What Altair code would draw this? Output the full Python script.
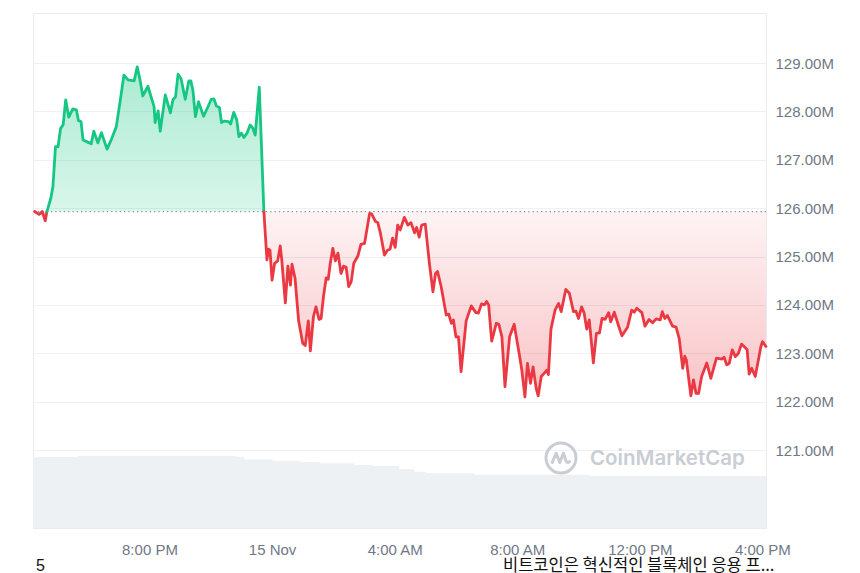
import altair as alt
import pandas as pd

# ---------------- data ----------------
START = "2024-11-14 16:12"      # left edge of the plot
END_MIN = 1435                  # right edge, minutes after START
BASE = 125.93                   # opening value (dotted reference line), in M

minutes = [3, 12, 18, 24, 27, 35, 39, 44, 49, 54, 59, 64, 70, 78, 85, 89, 94, 98, 106, 114,
           119, 127, 134, 145, 153, 163, 171, 178, 186, 198, 204, 209, 215, 225, 233, 237, 239, 245, 249, 259,
           269, 274, 279, 284, 290, 298, 305, 309, 313, 318, 324, 334, 341, 349, 354, 359, 365, 369, 375, 383,
           387, 393, 399, 403, 408, 413, 419, 425, 430, 435, 443, 452, 458, 461, 464, 468, 473, 479, 484, 487,
           494, 499, 504, 507, 513, 520, 528, 533, 539, 543, 549, 554, 560, 564, 569, 574, 578, 582, 587, 592,
           597, 603, 608, 613, 618, 623, 628, 636, 642, 649, 659, 663, 670, 675, 680, 688, 694, 699, 704, 709,
           714, 719, 727, 734, 740, 747, 751, 756, 761, 768, 776, 783, 788, 792, 799, 809, 814, 819, 823, 828,
           833, 838, 848, 858, 867, 872, 878, 884, 888, 892, 898, 907, 912, 918, 924, 933, 942, 952, 957, 963,
           968, 974, 979, 985, 989, 995, 1001, 1006, 1009, 1014, 1022, 1029, 1034, 1043, 1050, 1058, 1063, 1068, 1074, 1079,
           1084, 1089, 1097, 1103, 1109, 1114, 1120, 1127, 1131, 1138, 1146, 1153, 1164, 1172, 1177, 1182, 1192, 1198, 1206, 1213,
           1220, 1228, 1232, 1237, 1242, 1252, 1259, 1265, 1272, 1276, 1279, 1288, 1293, 1298, 1303, 1309, 1319, 1327, 1338, 1349,
           1353, 1358, 1363, 1369, 1375, 1381, 1387, 1398, 1402, 1407, 1414, 1425, 1428, 1435]

prices = [125.93, 125.87, 125.93, 125.74, 125.92, 126.21, 126.44, 127.27, 127.27, 127.65, 127.72, 128.24, 127.88, 128.05, 128.03, 127.81, 127.79, 127.41, 127.37, 127.33,
          127.59, 127.35, 127.56, 127.22, 127.41, 127.68, 128.24, 128.75, 128.65, 128.63, 128.92, 128.68, 128.32, 128.52, 128.24, 128.10, 127.77, 128.01, 127.59, 128.34,
          127.97, 128.24, 128.30, 128.77, 128.67, 128.25, 128.63, 128.63, 128.44, 127.89, 128.20, 127.90, 128.06, 128.25, 128.26, 128.11, 128.08, 127.77, 127.80, 127.79,
          127.74, 127.98, 127.82, 127.48, 127.55, 127.46, 127.55, 127.72, 127.66, 127.51, 128.50, 125.93, 124.93, 125.15, 125.13, 124.51, 124.86, 124.91, 125.22, 124.93,
          124.04, 124.80, 124.41, 124.84, 124.55, 123.67, 123.21, 123.16, 123.67, 123.05, 123.76, 123.96, 123.70, 123.72, 124.20, 124.56, 124.53, 124.86, 125.17, 124.91,
          125.07, 124.65, 124.80, 124.78, 124.38, 124.48, 124.86, 125.01, 125.25, 125.27, 125.89, 125.88, 125.73, 125.70, 125.49, 125.03, 125.13, 125.15, 125.38, 125.19,
          125.65, 125.55, 125.81, 125.65, 125.70, 125.49, 125.60, 125.40, 125.65, 125.67, 124.86, 124.27, 124.65, 124.69, 124.38, 123.79, 123.81, 123.62, 123.69, 123.34,
          123.34, 122.62, 123.67, 123.98, 123.84, 123.83, 124.02, 124.00, 124.07, 124.00, 123.25, 123.62, 123.60, 123.34, 122.31, 123.34, 123.60, 122.98, 122.65, 122.10,
          122.79, 122.38, 122.72, 122.28, 122.12, 122.52, 122.59, 122.65, 122.56, 123.50, 123.89, 124.03, 123.86, 124.32, 124.24, 123.86, 123.87, 123.72, 123.96, 123.83,
          123.50, 123.69, 122.80, 123.41, 123.42, 123.72, 123.70, 123.84, 123.65, 123.85, 123.58, 123.36, 123.54, 123.89, 123.85, 123.93, 123.84, 123.56, 123.70, 123.63,
          123.71, 123.69, 123.86, 123.72, 123.78, 123.56, 123.54, 123.31, 122.69, 122.94, 122.86, 122.12, 122.45, 122.17, 122.17, 122.52, 122.80, 122.48, 122.90, 122.88,
          122.92, 122.76, 122.79, 123.07, 122.93, 123.00, 123.19, 123.08, 122.57, 122.69, 122.52, 123.14, 123.24, 123.14]

# volume strip at the bottom (relative level, changes)
vol_minutes = [0, 87, 398, 414, 469, 522, 561, 629, 665, 717, 747, 770, 864, 1089, 1435]
vol_values = [7.10, 7.23, 7.10, 6.87, 6.73, 6.60, 6.47, 6.30, 6.20, 5.90, 5.63, 5.47, 5.33, 5.20, 5.20]

y_ticks = [121, 122, 123, 124, 125, 126, 127, 128, 129]
x_tick_times = [(14, 20), (15, 0), (15, 4), (15, 8), (15, 12), (15, 16)]

watermark = ["CoinMarketCap"]
footer_left = ["5"]
footer_right = ["비트코인은 혁신적인 블록체인 응용 프..."]

GREEN = "#16c784"
RED = "#ea3943"
LABEL_COLOR = "#6f7885"

# ---------------- build tables ----------------
t0 = pd.Timestamp(START)

rows = []
seg = 0
prev = None
for m, p in zip(minutes, prices):
    s = "up" if p > BASE else "down"
    if prev is not None and s != prev[2]:
        pm, pp, ps = prev
        frac = (BASE - pp) / (p - pp)
        cm = pm + frac * (m - pm)
        rows.append((cm, BASE, seg, ps))
        seg += 1
        rows.append((cm, BASE, seg, s))
    rows.append((m, p, seg, s))
    prev = (m, p, s)

price_df = pd.DataFrame(rows, columns=["m", "price", "seg", "sign"])
price_df["time"] = t0 + pd.to_timedelta(price_df["m"], unit="min")

vol_df = pd.DataFrame({"m": vol_minutes, "vol": vol_values})
vol_df["time"] = t0 + pd.to_timedelta(vol_df["m"], unit="min")

t_end = t0 + pd.Timedelta(minutes=END_MIN)


def dt(ts):
    return alt.DateTime(year=ts.year, month=ts.month, date=ts.day,
                        hours=ts.hour, minutes=ts.minute)


x_domain = [dt(t0), dt(t_end)]
x_values = [alt.DateTime(year=2024, month=11, date=d, hours=h) for d, h in x_tick_times]

x_axis = alt.Axis(values=x_values, title=None, grid=False, ticks=False, domain=False,
                  labelExpr="hours(datum.value) == 0 ? timeFormat(datum.value, '%-d %b') : timeFormat(datum.value, '%-I:%M %p')",
                  labelPadding=14, labelFontSize=15, labelColor=LABEL_COLOR,
                  labelFont="Liberation Sans", labelFlush=False)
x_enc = alt.X("time:T", scale=alt.Scale(domain=x_domain), axis=x_axis)

y_scale = alt.Scale(domain=[119.388, 130.034], zero=False, nice=False)
y_axis = alt.Axis(orient="right", values=y_ticks, title=None, ticks=False, domain=False,
                  grid=True, gridColor="#eef0f3", gridWidth=1,
                  labelExpr="format(datum.value, '.2f') + 'M'",
                  labelPadding=9, labelFontSize=15, labelColor=LABEL_COLOR,
                  labelFont="Liberation Sans")

green_grad = alt.Gradient(gradient="linear", x1=0, x2=0, y1=0, y2=1,
                          stops=[alt.GradientStop(color="rgba(22,199,132,0.36)", offset=0),
                                 alt.GradientStop(color="rgba(22,199,132,0.16)", offset=1)])
red_grad = alt.Gradient(gradient="linear", x1=0, x2=0, y1=0, y2=1,
                        stops=[alt.GradientStop(color="rgba(234,57,67,0.06)", offset=0),
                               alt.GradientStop(color="rgba(234,57,67,0.30)", offset=1)])

pbase = alt.Chart(price_df)

area_up = pbase.transform_filter(alt.datum.sign == "up").mark_area(color=green_grad).encode(
    x=x_enc, y=alt.Y("price:Q", scale=y_scale, axis=y_axis), y2=alt.datum(BASE), detail="seg:N")
area_down = pbase.transform_filter(alt.datum.sign == "down").mark_area(color=red_grad).encode(
    x=x_enc, y=alt.Y("price:Q", scale=y_scale, axis=y_axis), y2=alt.datum(BASE), detail="seg:N")

base_rule = alt.Chart(pd.DataFrame({"b": [BASE]})).mark_rule(
    color="#8c929b", strokeWidth=1.2, strokeDash=[1.3, 3]).encode(
    y=alt.Y("b:Q", scale=y_scale, axis=y_axis))

line = pbase.mark_line(strokeWidth=2.8, strokeJoin="round", strokeCap="round").encode(
    x=x_enc, y=alt.Y("price:Q", scale=y_scale, axis=y_axis),
    color=alt.Color("sign:N", scale=alt.Scale(domain=["up", "down"], range=[GREEN, RED]), legend=None),
    detail="seg:N")

price_layer = alt.layer(area_up, area_down, base_rule, line)

volume = alt.Chart(vol_df).mark_area(interpolate="step-after", color="#eef1f4").encode(
    x=x_enc, y=alt.Y("vol:Q", scale=alt.Scale(domain=[0, 51.5]), axis=None), y2=alt.datum(0))

# watermark
wm_text = alt.Chart(pd.DataFrame({"t": watermark})).mark_text(
    align="left", baseline="middle", font="Inter", fontWeight=600, fontSize=20.5,
    color="#c9cdd4").encode(x=alt.value(557), y=alt.value(446), text="t:N")
wm_ring = alt.Chart(pd.DataFrame({"t": watermark})).mark_point(
    shape="circle", filled=False, size=900, strokeWidth=3, color="#c9cdd4", opacity=1).encode(
    x=alt.value(528), y=alt.value(445))
wm_wave = alt.Chart(pd.DataFrame({"t": watermark})).mark_point(
    shape="M-0.62,0.38 L-0.32,-0.32 L-0.08,0.3 L0.16,-0.32 L0.34,0.22 Q0.45,0.4 0.62,0.18",
    filled=False, size=900, strokeWidth=3, color="#c9cdd4", opacity=1, strokeJoin="round").encode(
    x=alt.value(528), y=alt.value(445))

foot_l = alt.Chart(pd.DataFrame({"t": footer_left})).mark_text(
    align="left", baseline="middle", fontSize=16, font="Liberation Sans", color="#111111").encode(
    x=alt.value(3), y=alt.value(553), text="t:N")
foot_r = alt.Chart(pd.DataFrame({"t": footer_right})).mark_text(
    align="left", baseline="middle", fontSize=16.5, font="Noto Sans CJK KR", color="#111111").encode(
    x=alt.value(470), y=alt.value(553), text="t:N")

chart = alt.layer(volume, price_layer, wm_ring, wm_wave, wm_text, foot_l, foot_r).resolve_scale(
    y="independent"
).properties(
    width=733, height=515,
    padding={"left": 25, "top": 5, "right": 86, "bottom": 45},
    autosize=alt.AutoSizeParams(type="none"),
    background="white",
).configure_view(stroke="#e9ebee", strokeWidth=1)

chart.save("out.html", embed_options={"renderer": "svg", "actions": False})
